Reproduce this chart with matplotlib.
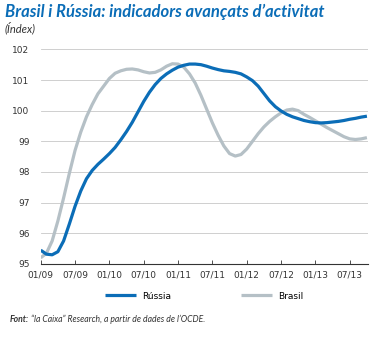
import matplotlib
matplotlib.use("Agg")
import matplotlib.pyplot as plt
import numpy as np

# monthly values, 01/09 .. 10/13
russia = [95.45, 95.32, 95.3, 95.4, 95.75, 96.3, 96.88, 97.38, 97.78, 98.05,
          98.25, 98.42, 98.6, 98.8, 99.05, 99.32, 99.62, 99.96, 100.3, 100.6,
          100.85, 101.05, 101.2, 101.32, 101.42, 101.48, 101.52, 101.52, 101.5, 101.45,
          101.39, 101.34, 101.3, 101.28, 101.25, 101.2, 101.1, 100.98, 100.8, 100.56,
          100.32, 100.13, 99.99, 99.88, 99.8, 99.74, 99.68, 99.64, 99.61, 99.6,
          99.61, 99.63, 99.65, 99.68, 99.72, 99.75, 99.79, 99.82]
brasil = [95.2, 95.35, 95.75, 96.4, 97.15, 97.95, 98.7, 99.3, 99.8, 100.2,
          100.55, 100.8, 101.05, 101.22, 101.3, 101.35, 101.36, 101.33, 101.27, 101.23,
          101.25, 101.33, 101.45, 101.53, 101.52, 101.42, 101.2, 100.9, 100.5, 100.05,
          99.6, 99.2, 98.85, 98.6, 98.52, 98.57, 98.75, 99.0, 99.25, 99.47,
          99.65, 99.8, 99.93, 100.02, 100.05, 100.0, 99.88, 99.78, 99.67, 99.56,
          99.45, 99.35, 99.25, 99.15, 99.08, 99.06, 99.08, 99.12]
tick_labels = ["01/09", "07/09", "01/10", "07/10", "01/11",
               "07/11", "01/12", "07/12", "01/13", "07/13"]
yticks = [95, 96, 97, 98, 99, 100, 101, 102]

blue = "#0b6db7"
grey = "#b5c0c6"
dark = "#333333"

months = np.arange(len(russia))

fig = plt.figure(figsize=(3.75, 3.38), dpi=100)
ax = fig.add_axes([0.1085, 0.219, 0.873, 0.635])

ax.plot(months, brasil, color=grey, lw=2.3, label="Brasil", solid_capstyle="butt")
ax.plot(months, russia, color=blue, lw=2.3, label="Rússia", solid_capstyle="butt")

ax.set_xlim(0, 57.2)
ax.set_ylim(95, 102)
ax.set_yticks(yticks)
ax.set_xticks(np.arange(0, 60, 6))
ax.set_xticklabels(tick_labels)
for y in yticks[1:]:
    ax.axhline(y, color="#c8c8c8", lw=0.6, zorder=0)

for s in ["top", "right", "left"]:
    ax.spines[s].set_visible(False)
ax.spines["bottom"].set_color(dark)
ax.spines["bottom"].set_linewidth(0.8)
ax.tick_params(axis="y", length=0, labelsize=6.5, colors=dark, pad=8)
ax.tick_params(axis="x", direction="in", length=3, width=0.6, color=dark,
               labelsize=6.5, labelcolor=dark, pad=5)

h, l = ax.get_legend_handles_labels()
fig.legend([h[1], h[0]], [l[1], l[0]], loc="center", bbox_to_anchor=(0.545, 0.124),
           ncol=2, frameon=False, fontsize=6.5, handlelength=3.4,
           handletextpad=0.7, columnspacing=7.8)

fig.text(0.013, 0.99, "Brasil i Rússia: indicadors avançats d\u2019activitat",
         fontfamily="Lato", fontweight="bold", fontstyle="italic",
         fontsize=12, color=blue, va="top")
fig.text(0.013, 0.935, "(Índex)", fontfamily="Lato", fontstyle="italic",
         fontsize=8, color=dark, va="top")

t1 = fig.text(0.027, 0.048, "Font:", fontfamily="Lato", fontweight="bold",
              fontstyle="italic", fontsize=6.2, color=dark)
ax.annotate(" \u201cla Caixa\u201d Research, a partir de dades de l\u2019OCDE.",
            xy=(1, 0), xycoords=t1, va="bottom", ha="left",
            fontfamily="Lato", fontstyle="italic", fontsize=6.2, color=dark)

fig.savefig("out.png", dpi=100)
